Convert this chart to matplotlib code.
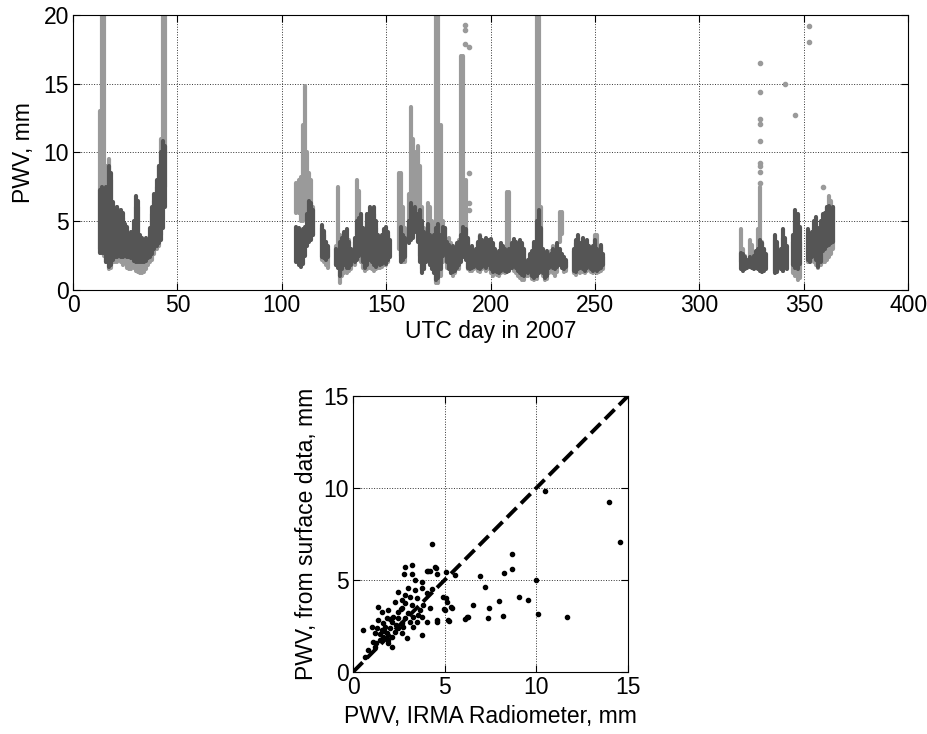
import matplotlib
matplotlib.use('Agg')
import matplotlib.pyplot as plt
import numpy as np

plt.rcParams['font.family'] = ['Liberation Sans', 'DejaVu Sans']

# --- top panel: PWV time series (per-day min / max of each series) ---
# dark series: surface-data estimate
dark_day = [13, 14, 15, 16, 17, 18, 19, 20, 21, 22, 23, 24, 25, 26, 27, 28, 29, 30,
            31, 32, 33, 34, 35, 36, 37, 38, 39, 40, 41, 42, 43, 44,
            107, 108, 109, 110, 111, 112, 113, 114, 115, 119, 120, 121, 122,
            126, 127, 128, 129, 130, 131, 132, 133, 135, 136, 137, 138, 139, 140,
            141, 142, 143, 144, 145, 146, 147, 148, 149, 150, 151, 152,
            157, 158, 159, 161, 162, 163, 164, 165, 166, 167, 168, 169, 170, 171,
            172, 173, 174, 175, 176, 177, 178, 179, 180, 181, 182, 183, 184, 185,
            186, 187, 188, 189, 190, 191, 192, 193, 194, 195, 196, 197, 198, 199,
            200, 201, 202, 203, 204, 205, 206, 207, 208, 209, 210, 211, 212, 213,
            214, 215, 216, 217, 218, 219, 220, 221, 222, 223, 224, 225, 226, 227,
            228, 229, 230, 231, 232, 233, 234, 235, 236, 240, 241, 242, 243, 244,
            245, 246, 247, 248, 249, 250, 251, 252, 253, 254,
            320, 321, 322, 323, 324, 325, 326, 327, 328, 329, 330, 331, 332,
            336, 337, 339, 340, 341, 342, 345, 346, 347, 348,
            352, 353, 354, 355, 356, 357, 358, 359, 360, 361, 362, 363, 364]
dark_lo = [2.7, 2.7, 2.7, 2.0, 1.7, 1.8, 2.2, 2.4, 2.4, 2.5, 2.4, 2.4, 2.5, 2.4, 2.4, 2.3, 2.1, 2.0,
           2.0, 2.0, 2.0, 2.0, 2.1, 2.3, 2.4, 2.6, 3.0, 3.2, 3.4, 3.6, 4.5, 6.0,
           2.0, 1.8, 1.7, 1.9, 2.5, 3.2, 3.5, 3.6, 4.0, 2.4, 2.3, 2.2, 2.4,
           1.8, 1.6, 1.0, 1.5, 1.8, 1.6, 1.6, 1.8, 2.0, 2.2, 2.5, 3.0, 2.0, 1.6,
           1.8, 2.2, 2.0, 1.8, 1.7, 2.0, 1.8, 1.9, 2.0, 1.9, 2.2, 2.4,
           2.0, 2.2, 2.4, 3.4, 3.6, 3.8, 4.2, 3.5, 2.0, 1.2, 1.5, 2.0, 2.3, 1.8,
           1.5, 1.2, 0.7, 0.9, 1.5, 2.5, 2.6, 2.0, 1.5, 1.2, 1.3, 1.4, 1.6, 1.8,
           2.0, 2.4, 2.2, 1.6, 1.5, 1.6, 1.7, 1.8, 1.6, 1.5, 1.7, 1.8, 1.6, 1.8,
           1.5, 1.3, 1.4, 1.3, 1.2, 1.4, 1.5, 1.4, 1.3, 1.4, 1.6, 1.8, 1.6, 1.4,
           1.2, 1.1, 1.0, 1.3, 1.2, 1.4, 1.0, 0.9, 1.0, 1.2, 1.5, 1.2, 0.9, 1.0,
           1.6, 1.8, 1.6, 1.5, 1.7, 1.8, 1.6, 1.5, 1.7, 1.4, 1.3, 1.5, 1.6, 1.5,
           1.4, 1.6, 1.8, 1.5, 1.4, 1.5, 1.4, 1.5, 1.6, 1.8,
           1.5, 1.4, 1.5, 1.6, 1.7, 1.6, 1.5, 1.6, 1.5, 1.4, 1.3, 1.4, 1.5,
           1.2, 1.3, 1.5, 1.4, 1.6, 1.5, 1.8, 1.6, 1.5, 1.9,
           2.2, 2.0, 2.4, 2.5, 2.2, 1.7, 2.0, 2.8, 3.0, 3.2, 3.3, 3.4, 3.5]
dark_hi = [7.3, 7.5, 7.0, 7.5, 9.0, 8.5, 6.4, 5.5, 6.0, 5.0, 5.8, 5.6, 4.8, 4.6, 4.0, 4.2, 5.0, 6.8,
           6.5, 4.0, 3.8, 3.6, 3.8, 3.5, 4.5, 6.0, 7.0, 8.0, 9.0, 10.0, 10.8, 10.5,
           4.6, 4.5, 4.0, 4.4, 4.6, 5.5, 6.5, 6.3, 5.8, 4.7, 4.3, 3.5, 3.2,
           3.0, 2.8, 3.5, 3.8, 4.2, 4.4, 3.5, 3.0, 3.8, 5.0, 5.2, 5.5, 4.5, 3.6,
           5.5, 6.0, 5.6, 6.0, 5.0, 4.0, 3.2, 4.0, 4.4, 4.6, 4.2, 3.6,
           4.6, 4.0, 3.8, 5.0, 6.3, 5.8, 6.0, 5.5, 5.8, 5.0, 4.2, 4.0, 4.8, 4.0,
           3.6, 4.0, 4.5, 4.8, 4.0, 4.6, 4.5, 3.5, 3.3, 3.0, 3.2, 3.0, 3.4, 3.5,
           4.0, 4.6, 4.4, 3.8, 3.0, 3.2, 2.8, 3.0, 3.5, 3.9, 3.6, 3.4, 3.8, 3.6,
           3.7, 3.4, 3.0, 2.6, 2.8, 3.4, 3.2, 3.0, 2.5, 3.0, 3.4, 3.7, 3.5, 3.2,
           3.6, 3.4, 3.0, 2.0, 2.2, 2.6, 2.8, 3.5, 5.0, 5.8, 4.5, 3.0, 2.5, 2.8,
           2.4, 2.6, 3.0, 2.8, 3.4, 3.0, 2.6, 2.4, 2.2, 3.0, 3.6, 4.0, 3.4, 3.8,
           3.0, 3.6, 3.2, 2.8, 3.2, 3.6, 3.0, 2.8, 3.3, 2.6,
           2.7, 2.6, 2.4, 2.2, 2.4, 2.2, 2.5, 2.8, 3.0, 3.6, 3.4, 3.0, 2.6,
           4.0, 3.5, 3.0, 4.4, 3.8, 3.2, 4.0, 5.8, 5.5, 4.6,
           4.4, 4.0, 4.2, 5.0, 5.3, 4.5, 5.0, 5.5, 5.6, 6.0, 6.1, 5.8, 6.0]

# light series: IRMA radiometer
light_day = [13, 14, 15, 16, 17, 18, 19, 20, 21, 22, 23, 24, 25, 26, 27, 28, 29, 30,
             31, 32, 33, 34, 35, 36, 37, 38, 39, 40, 41, 42, 43, 44,
             107, 108, 109, 110, 111, 112, 113, 114, 115, 119, 120, 121, 122,
             126, 127, 128, 129, 130, 131, 132, 133, 135, 136, 137, 138, 139, 140,
             141, 142, 143, 144, 145, 146, 147, 148, 149, 150, 151,
             156, 157, 158, 159, 161, 162, 163, 164, 165, 166, 167, 168, 169, 170,
             171, 172, 173, 174, 175, 176, 177, 178, 179, 180, 181, 182, 183, 184,
             185, 186, 187, 188, 189, 190, 191, 192, 193, 194, 195, 196, 197, 198,
             199, 200, 201, 202, 203, 204, 205, 206, 207, 208, 209, 210, 211, 212,
             213, 214, 215, 216, 217, 218, 219, 220, 221, 222, 223, 224, 225, 226,
             227, 228, 229, 230, 231, 232, 233, 234, 235, 236, 240, 241, 242, 243,
             244, 245, 246, 247, 248, 249, 250, 251, 252, 253, 254,
             320, 321, 322, 324, 325, 328, 329, 330, 331, 336, 337, 340, 341,
             345, 346, 347, 348, 352, 353, 355, 356, 357, 358, 359, 360, 361,
             362, 363, 364]
light_lo = [3.0, 2.8, 2.5, 2.0, 1.5, 1.6, 2.0, 2.0, 2.0, 2.2, 2.0, 1.8, 2.0, 1.6, 1.5, 1.5, 1.6, 1.4,
            1.3, 1.2, 1.2, 1.3, 1.5, 1.8, 2.0, 2.2, 2.6, 3.0, 3.2, 4.0, 6.0, 7.5,
            5.6, 5.6, 5.0, 5.0, 5.5, 5.0, 5.0, 4.5, 4.0, 2.2, 2.0, 1.8, 1.6,
            1.8, 1.8, 0.5, 1.0, 1.2, 1.2, 1.4, 1.5, 1.8, 4.0, 3.0, 2.0, 1.6, 1.4,
            1.5, 1.6, 1.5, 1.4, 1.5, 1.6, 1.6, 1.7, 1.8, 1.8, 2.0,
            3.0, 2.5, 2.0, 2.0, 3.5, 4.0, 4.5, 4.5, 4.0, 2.5, 1.5, 1.5, 2.0, 3.0,
            3.5, 3.2, 1.5, 0.5, 0.5, 1.0, 2.0, 2.2, 1.6, 1.6, 1.2, 1.0, 1.2, 1.5,
            1.5, 2.5, 4.8, 2.5, 1.5, 1.4, 1.4, 1.5, 1.6, 1.4, 1.3, 1.5, 1.6, 1.4,
            1.5, 1.2, 1.0, 1.2, 1.1, 1.0, 1.2, 1.3, 1.2, 1.5, 1.5, 1.6, 1.4, 1.2,
            1.0, 0.9, 0.7, 0.7, 1.0, 1.0, 1.2, 0.8, 0.7, 0.8, 3.0, 1.3, 1.0, 0.7,
            0.8, 1.2, 1.4, 1.2, 1.0, 1.3, 3.5, 4.1, 1.3, 1.4, 1.2, 1.1, 1.3, 1.2,
            1.3, 1.2, 1.4, 1.5, 1.3, 1.2, 1.3, 1.2, 1.3, 1.4, 1.5,
            2.0, 1.8, 1.6, 2.0, 2.0, 1.6, 2.0, 1.5, 1.5, 1.4, 1.4, 1.4, 1.6,
            1.2, 1.0, 0.7, 0.9, 2.0, 2.0, 2.0, 1.8, 1.6, 1.8, 2.0, 2.0, 2.2,
            2.4, 2.6, 3.0]
light_hi = [13.0, 20.0, 20.0, 9.0, 9.5, 8.0, 6.0, 5.5, 6.0, 5.8, 5.5, 5.2, 4.5, 4.3, 3.8, 4.0, 4.5, 6.0,
            6.0, 3.5, 3.5, 3.4, 3.6, 3.4, 4.0, 5.5, 6.5, 7.5, 9.0, 11.0, 20.0, 20.0,
            7.8, 8.0, 8.2, 12.0, 14.8, 10.0, 8.5, 8.0, 6.0, 4.5, 4.0, 3.5, 3.0,
            3.2, 7.5, 4.0, 3.5, 4.0, 3.8, 3.6, 3.0, 3.5, 8.0, 7.2, 5.5, 4.5, 3.4,
            5.0, 5.5, 5.0, 5.5, 4.5, 3.8, 3.5, 3.8, 4.0, 4.2, 4.0,
            8.5, 8.5, 6.0, 4.5, 7.0, 13.3, 11.0, 10.0, 10.5, 9.0, 6.0, 4.5, 4.2, 6.3,
            6.0, 5.0, 4.5, 20.0, 20.0, 12.0, 5.0, 4.5, 3.6, 3.8, 3.4, 3.0, 2.8, 3.0,
            3.6, 17.0, 17.0, 8.0, 3.6, 2.8, 3.0, 2.6, 2.8, 3.4, 4.0, 3.6, 3.2, 3.6,
            3.4, 3.5, 3.2, 2.8, 2.4, 2.6, 3.2, 3.0, 2.8, 7.1, 7.1, 3.2, 3.6, 3.4,
            3.0, 3.4, 3.2, 2.8, 1.8, 2.0, 2.4, 2.6, 3.2, 20.0, 20.0, 6.0, 2.8, 2.4,
            2.6, 2.2, 2.8, 3.2, 2.6, 3.2, 5.7, 5.7, 2.2, 2.0, 2.8, 3.4, 3.8, 3.2,
            3.6, 2.8, 3.4, 3.0, 2.6, 3.0, 4.0, 4.0, 2.6, 3.1, 2.4,
            4.4, 3.0, 2.5, 3.6, 3.3, 4.4, 7.5, 3.5, 3.0, 3.6, 3.2, 3.8, 3.5,
            3.5, 5.0, 4.5, 3.5, 4.0, 3.8, 4.5, 4.8, 4.0, 4.5, 5.0, 5.5, 6.0,
            6.8, 6.5, 6.0]

# isolated radiometer readings
spot_day = [187.5, 187.5, 187.5, 189.5, 189.5, 189.5, 189.5, 329, 329, 329, 329,
            329, 329, 329, 329, 329, 341, 346, 352.6, 352.6, 359.3]
spot_val = [19.3, 18.9, 17.9, 17.7, 8.5, 6.3, 5.8, 16.5, 14.4, 12.4, 12.1,
            10.8, 9.2, 9.0, 8.6, 7.8, 15.0, 12.7, 19.2, 18.0, 7.5]

# --- bottom panel: radiometer vs surface-data PWV ---
irma = [14.56, 13.98, 10.47, 11.69, 10.07, 9.96, 9.56, 9.07, 8.65, 8.65, 8.24, 8.20,
        7.95, 7.42, 7.35, 7.18, 6.95, 6.56, 6.24, 6.11, 5.33, 5.24, 5.05, 4.98, 5.05,
        5.55, 4.60, 4.53, 4.33, 4.20, 4.02, 4.05, 3.47,
        2.84, 3.24, 2.80, 3.20, 4.47, 4.07, 4.56, 3.75, 3.02, 3.38, 3.75, 4.02, 4.33,
        3.11, 3.47, 2.65, 2.29, 2.84, 3.20, 4.93, 5.11, 5.02, 5.38, 6.30, 4.56, 5.20,
        3.75, 3.75, 2.93, 0.56, 1.38, 1.56, 1.93, 2.47, 1.02, 1.20, 0.84, 1.11, 0.66,
        1.65, 2.11, 2.65, 1.84, 2.29, 1.47, 1.65, 2.02, 2.47, 2.84, 3.02, 2.47, 2.20,
        1.84, 1.38, 1.29, 1.56, 1.75, 1.93, 2.11, 1.20, 2.65, 3.29, 3.29, 2.65, 3.38,
        2.84, 2.47, 3.84, 4.20, 3.66, 2.11, 1.45, 1.70, 2.35, 2.60, 1.90, 3.10, 3.55,
        1.25, 2.00, 2.75]
surface = [7.08, 9.26, 9.86, 3.00, 3.13, 5.00, 3.91, 4.09, 6.39, 5.60, 5.38, 3.04,
           3.86, 3.50, 2.92, 4.60, 5.22, 3.62, 3.00, 2.88, 3.51, 2.79, 4.04, 3.41, 5.45,
           5.27, 2.70, 5.63, 6.94, 5.50, 5.49, 2.74, 2.74,
           5.72, 5.82, 5.30, 5.30, 5.72, 5.49, 5.30, 4.91, 4.55, 4.46, 4.55, 4.27, 4.49,
           4.09, 4.00, 3.91, 3.82, 3.73, 3.64, 4.09, 3.82, 3.37, 3.46, 3.00, 2.81, 2.81,
           3.00, 2.00, 1.83, 2.28, 3.55, 3.28, 3.37, 3.28, 2.46, 2.10, 1.20, 1.65, 0.84,
           2.64, 2.73, 2.64, 2.10, 2.19, 1.74, 1.92, 2.37, 2.37, 2.91, 3.19, 2.91, 3.00,
           2.91, 2.82, 2.37, 2.28, 2.46, 1.74, 1.92, 1.37, 2.10, 2.46, 3.00, 3.46, 5.00,
           4.18, 4.36, 3.64, 3.46, 3.37, 1.37, 2.05, 2.20, 2.55, 3.40, 1.60, 2.70, 3.10,
           1.55, 2.90, 2.45]

light_col = '#9a9a9a'
dark_col = '#555555'
fs = 16.5

fig = plt.figure(figsize=(9.28, 7.34), dpi=100)
ax1 = fig.add_axes([0.0787, 0.605, 0.9, 0.3747])
ax2 = fig.add_axes([0.3804, 0.0845, 0.2963, 0.376])


def matlab_style(ax):
    ax.grid(True, linestyle=':', color='#333333', linewidth=0.7)
    ax.set_axisbelow(True)
    ax.tick_params(direction='in', top=True, right=True, length=5,
                   labelsize=fs, width=0.8, pad=3)
    for s in ax.spines.values():
        s.set_linewidth(0.8)


# top: light series underneath, dark series on top
ax1.vlines(light_day, light_lo, light_hi, color=light_col, linewidth=3,
           capstyle='round')
ax1.plot(spot_day, spot_val, 'o', color=light_col, markersize=3)
ax1.vlines(dark_day, dark_lo, dark_hi, color=dark_col, linewidth=3,
           capstyle='round')
ax1.set_xlim(0, 400)
ax1.set_ylim(0, 20)
ax1.set_xticks(np.arange(0, 401, 50))
ax1.set_yticks(np.arange(0, 21, 5))
ax1.set_xlabel('UTC day in 2007', fontsize=fs, labelpad=2)
ax1.set_ylabel('PWV, mm', fontsize=fs, labelpad=6)
matlab_style(ax1)

# bottom: scatter plus 1:1 line
ax2.plot([0, 15], [0, 15], color='black', linewidth=2.8,
         linestyle=(0, (3.5, 1.6)))
ax2.plot(irma, surface, 'o', color='black', markersize=3)
ax2.set_xlim(0, 15)
ax2.set_ylim(0, 15)
ax2.set_xticks([0, 5, 10, 15])
ax2.set_yticks([0, 5, 10, 15])
ax2.set_xlabel('PWV, IRMA Radiometer, mm', fontsize=fs, labelpad=4)
ax2.set_ylabel('PWV, from surface data, mm', fontsize=fs, labelpad=4)
matlab_style(ax2)

fig.savefig('out.png', dpi=100)
